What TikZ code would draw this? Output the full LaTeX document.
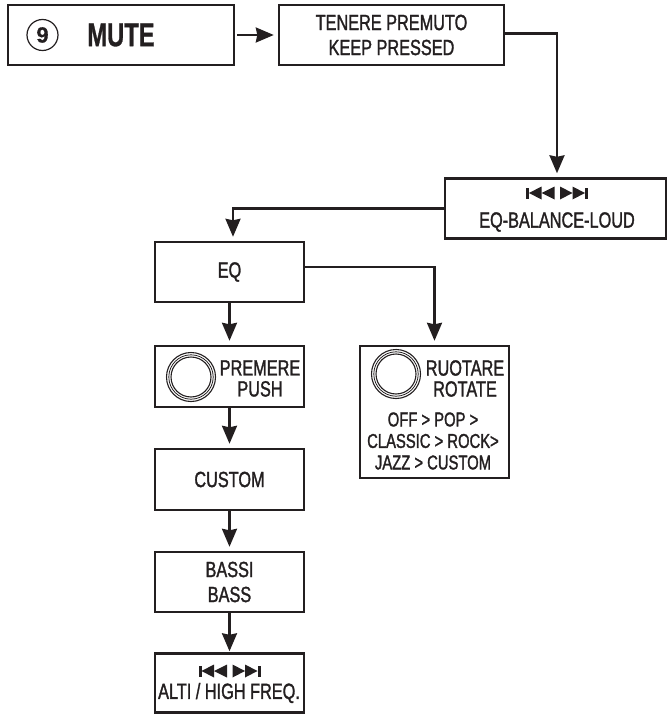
\documentclass[tikz,border=0pt]{standalone}
\usepackage{fontspec}
\setmainfont{Liberation Sans}[FakeStretch=0.74,FakeBold=1.4]
\newfontfamily\bigfont{Liberation Sans Bold}[FakeStretch=0.72,FakeBold=0.8]
\newfontfamily\ninefont{Liberation Sans Bold}[FakeBold=0.5]
\usetikzlibrary{arrows.meta,calc}
\definecolor{ink}{HTML}{231F20}
\tikzset{
  x=1pt,y=-1pt,
  box/.style={draw=ink,line width=2.4pt,inner sep=0pt,align=center,text=ink,font=\fontsize{22}{25}\selectfont},
  lbl/.style={inner sep=0pt,align=center,text=ink,font=\fontsize{22}{21}\selectfont},
  small/.style={inner sep=0pt,align=center,text=ink,font=\fontsize{20}{21.5}\selectfont},
  conn/.style={draw=ink,line width=2.4pt,-{Stealth[length=18pt,width=15pt,inset=1.5pt]},shorten >=4pt},
  skipicon/.pic={
    \fill[ink] (-31,-5.5) rectangle (-28,5.5);
    \fill[ink] (-28,0) -- (-15.5,-6.5) -- (-15.5,6.5) -- cycle;
    \fill[ink] (-15.5,0) -- (-2.5,-6.5) -- (-2.5,6.5) -- cycle;
    \fill[ink] (3,-6.5) -- (15.5,0) -- (3,6.5) -- cycle;
    \fill[ink] (15.5,-6.5) -- (28,0) -- (15.5,6.5) -- cycle;
    \fill[ink] (28,-5.5) rectangle (31,5.5);
  },
  knob/.pic={
    \draw[ink,line width=1.1pt] (0,0) circle (24.5);
    \draw[ink,line width=0.8pt] (0,0) circle (22.2);
    \draw[ink,line width=1.1pt] (0,0) circle (20);
  }
}
\begin{document}
\begin{tikzpicture}
\useasboundingbox (0,0) rectangle (669,714);
% boxes
\node[box,minimum width=226pt,minimum height=60pt] (mute) at (121,35) {};
\node[box,minimum width=225pt,minimum height=60pt] (tenere) at (391.5,35) {TENERE PREMUTO\\KEEP PRESSED};
\node[box,minimum width=221pt,minimum height=60pt] (bal) at (555.5,208.5) {};
\node[box,minimum width=149pt,minimum height=60pt] (eq) at (229.5,272) {EQ};
\node[box,minimum width=149pt,minimum height=61pt] (premere) at (229.5,376.5) {};
\node[box,minimum width=149pt,minimum height=132pt] (ruotare) at (434.5,412) {};
\node[box,minimum width=149pt,minimum height=61pt] (custom) at (229.5,479.5) {CUSTOM};
\node[box,minimum width=149pt,minimum height=60pt] (bassi) at (229.5,582) {BASSI\\BASS};
\node[box,minimum width=149pt,minimum height=59pt] (alti) at (229.5,683) {};
% texts inside boxes
\node[draw=ink,line width=1.2pt,circle,minimum size=31pt,inner sep=0pt,text=ink,font=\ninefont\fontsize{22}{22}\selectfont] (nine) at (42.5,35) {9};
\node[inner sep=0pt,text=ink,font=\bigfont\fontsize{33}{33}\selectfont] (mutetext) at (121,35) {MUTE};
\pic at (557,193) {skipicon};
\node[lbl] (baltext) at (557,222) {EQ-BALANCE-LOUD};
\pic at (191,377) {knob};
\node[lbl] (pretext) at (260,378.5) {PREMERE\\PUSH};
\pic at (396,374) {knob};
\node[lbl] (ruotext) at (465,378.5) {RUOTARE\\ROTATE};
\node[small] (modes) at (433,441) {OFF > POP >\\CLASSIC > ROCK>\\JAZZ > CUSTOM};
\pic at (229.5,671) {skipicon};
\node[lbl] (altitext) at (229,693) {ALTI / HIGH FREQ.};
% connectors
\draw[conn,shorten <=2pt] (mute.east) -- (tenere.west);
\draw[conn] ([yshift=1.5pt]tenere.east) -| ([xshift=1.5pt]bal.north);
\draw[conn] (bal.west) -| ([xshift=3.5pt]eq.north);
\draw[conn] ([yshift=5pt]eq.east) -| (ruotare.north);
\draw[conn] (eq.south) -- (premere.north);
\draw[conn] (premere.south) -- (custom.north);
\draw[conn] (custom.south) -- (bassi.north);
\draw[conn,shorten >=1pt] (bassi.south) -- (alti.north);
\end{tikzpicture}
\end{document}
